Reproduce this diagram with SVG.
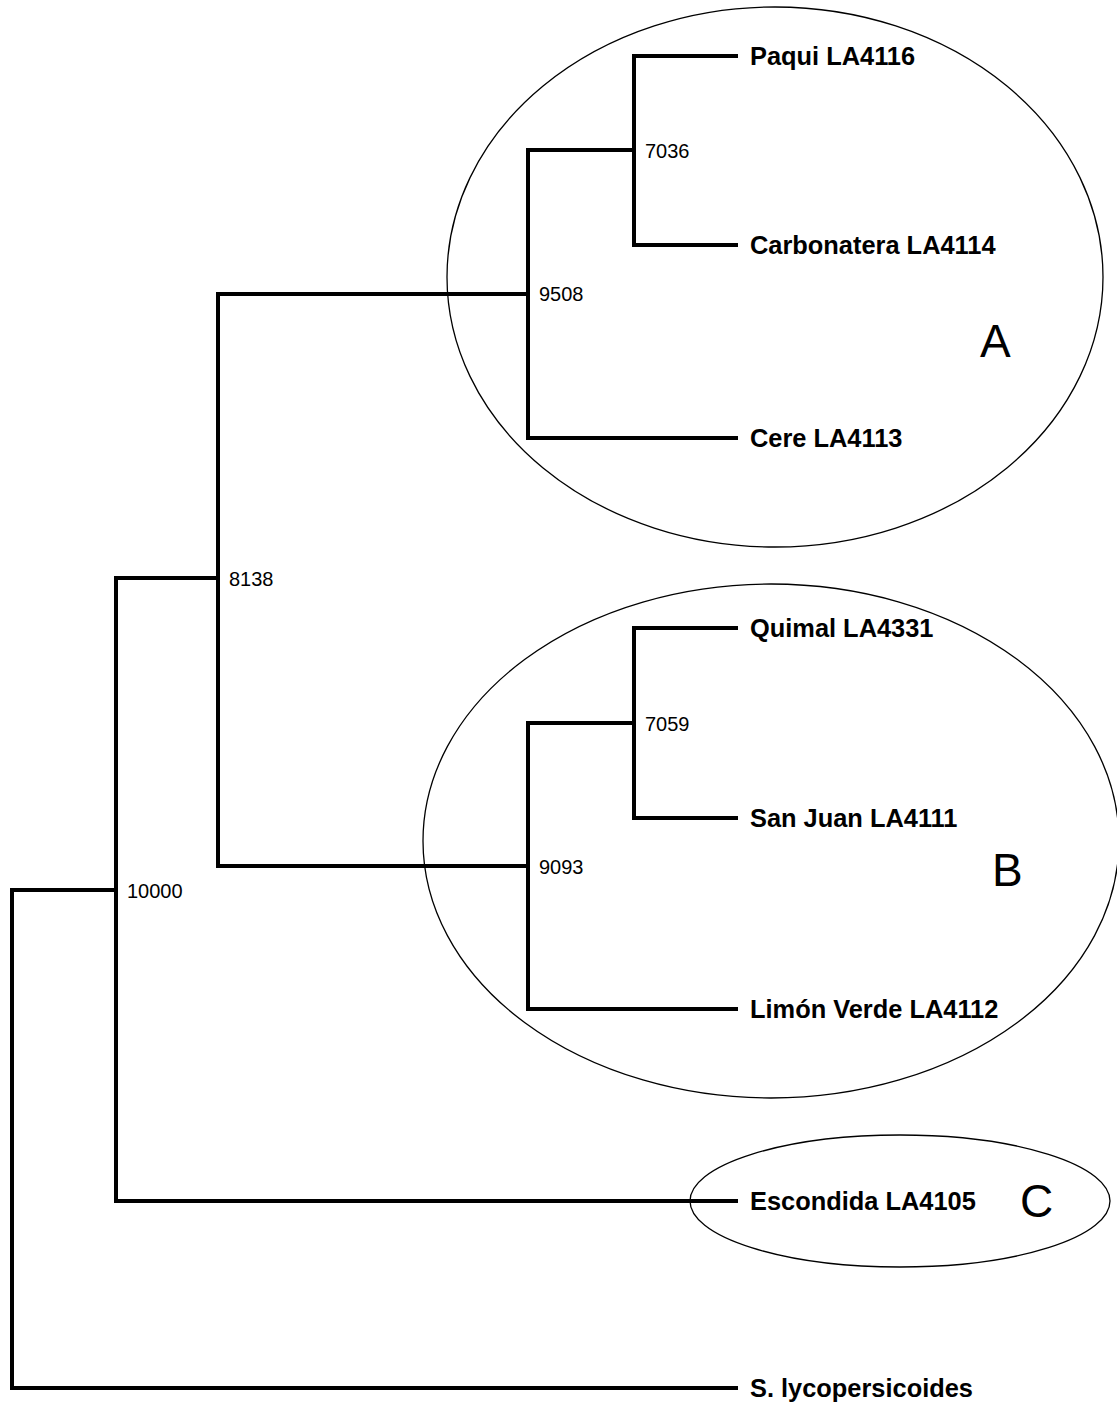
<svg xmlns="http://www.w3.org/2000/svg" width="1117" height="1412" viewBox="0 0 1117 1412">
<style>
.br{fill:none;stroke:#000;stroke-width:4;stroke-linejoin:miter;stroke-linecap:square}
.cl{fill:none;stroke:#000;stroke-width:1.3}
.leaf{font-family:"Liberation Sans",Arial,sans-serif;font-weight:bold;font-size:25.4px;fill:#000}
.bs{font-family:"Liberation Sans",Arial,sans-serif;font-size:20px;fill:#000}
.grp{font-family:"Liberation Sans",Arial,sans-serif;font-size:46px;fill:#000}
</style>
<rect width="1117" height="1412" fill="#fff"/>
<g id="clades">
<ellipse id="clade-A" class="cl" cx="775" cy="277" rx="328" ry="270"/>
<ellipse id="clade-B" class="cl" cx="771" cy="841" rx="348" ry="257"/>
<ellipse id="clade-C" class="cl" cx="900" cy="1201" rx="210" ry="66"/>
<text class="grp" x="980" y="357">A</text>
<text class="grp" x="992" y="886">B</text>
<text class="grp" x="1020" y="1217">C</text>
</g>
<g id="connectors">
<path class="br" d="M12 890 H116 M12 890 V1388 H736"/>
<path class="br" d="M116 578 V1201 H736 M116 578 H218"/>
<path class="br" d="M218 294 V866 M218 294 H528 M218 866 H528"/>
<path class="br" d="M528 150 V438 H736 M528 150 H634"/>
<path class="br" d="M634 56 V245 M634 56 H736 M634 245 H736"/>
<path class="br" d="M528 723 V1009 H736 M528 723 H634"/>
<path class="br" d="M634 628 V818 M634 628 H736 M634 818 H736"/>
</g>
<g id="node-10000"><text class="bs" x="127" y="898">10000</text></g>
<g id="node-8138"><text class="bs" x="229" y="586">8138</text></g>
<g id="node-9508"><text class="bs" x="539" y="301">9508</text></g>
<g id="node-7036"><text class="bs" x="645" y="158">7036</text></g>
<g id="node-9093"><text class="bs" x="539" y="874">9093</text></g>
<g id="node-7059"><text class="bs" x="645" y="731">7059</text></g>
<g id="leaf-paqui"><text class="leaf" x="750" y="65">Paqui LA4116</text></g>
<g id="leaf-carbonatera"><text class="leaf" x="750" y="254">Carbonatera LA4114</text></g>
<g id="leaf-cere"><text class="leaf" x="750" y="447">Cere LA4113</text></g>
<g id="leaf-quimal"><text class="leaf" x="750" y="637">Quimal LA4331</text></g>
<g id="leaf-sanjuan"><text class="leaf" x="750" y="827">San Juan LA4111</text></g>
<g id="leaf-limonverde"><text class="leaf" x="750" y="1018">Limón Verde LA4112</text></g>
<g id="leaf-escondida"><text class="leaf" x="750" y="1210">Escondida LA4105</text></g>
<g id="leaf-slyco"><text class="leaf" x="750" y="1397">S. lycopersicoides</text></g>
</svg>
